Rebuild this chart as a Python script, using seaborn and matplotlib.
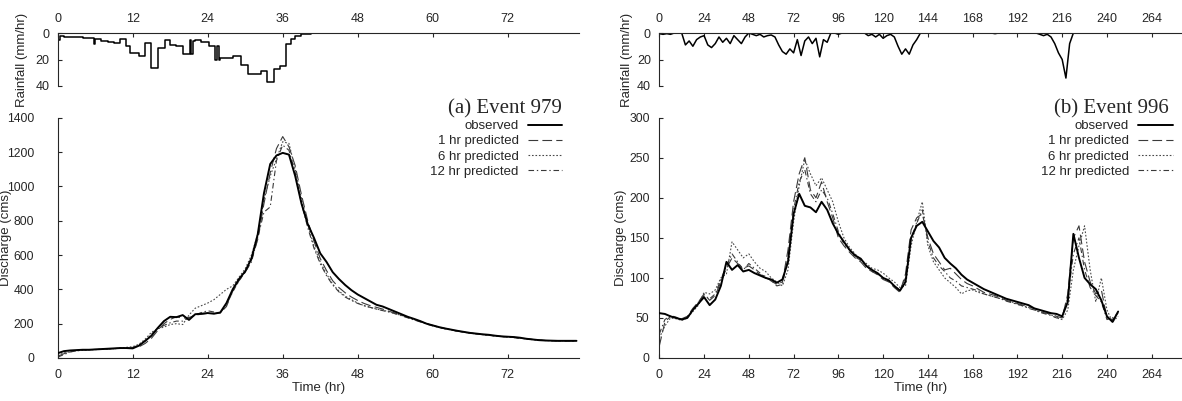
import numpy as np
import matplotlib
matplotlib.use('Agg')
import matplotlib.pyplot as plt
import seaborn as sns

#------------------------------------------------------------------------------
# data

# (a) event 979 : hourly discharge 0..83 hr
hours_a = np.arange(0, 84)
obs_a = [28, 40, 44, 46, 48, 48, 50, 52, 54, 56, 58, 58,
         56, 72, 100, 130, 175, 215, 240, 238, 250, 222, 255, 258,
         262, 258, 265, 320, 400, 460, 505, 580, 720, 960, 1130, 1180,
         1195, 1185, 1060, 900, 780, 700, 610, 560, 500, 460, 425, 395,
         370, 350, 330, 310, 300, 285, 270, 255, 240, 228, 215, 200,
         190, 180, 172, 165, 158, 152, 146, 142, 138, 135, 130, 126,
         124, 122, 118, 112, 108, 104, 102, 101, 100, 100, 100, 100]
p1_a = [10, 25, 38, 44, 47, 48, 50, 51, 53, 55, 57, 58,
        60, 65, 85, 115, 160, 200, 225, 240, 232, 235, 250, 255,
        260, 260, 262, 300, 390, 450, 500, 570, 690, 900, 1080, 1220,
        1290, 1230, 1120, 950, 800, 680, 580, 510, 450, 410, 380, 355,
        335, 318, 305, 295, 285, 272, 262, 250, 238, 226, 214, 200,
        190, 180, 172, 164, 157, 151, 146, 141, 137, 133, 129, 126,
        123, 120, 116, 112, 108, 105, 102, 101, 100, 100, 100, 100]
p6_a = [15, 30, 36, 42, 45, 47, 49, 50, 52, 54, 58, 62,
        66, 80, 110, 150, 170, 180, 195, 200, 195, 250, 290, 305,
        320, 340, 370, 400, 420, 470, 520, 600, 720, 920, 1060, 1160,
        1260, 1250, 1100, 930, 780, 650, 560, 490, 430, 390, 360, 340,
        320, 305, 295, 285, 278, 270, 258, 248, 236, 224, 212, 200,
        188, 178, 170, 163, 156, 150, 145, 140, 136, 132, 128, 125,
        122, 119, 115, 111, 107, 104, 102, 101, 100, 100, 100, 100]
p12_a = [5, 20, 35, 42, 46, 48, 50, 51, 52, 54, 56, 58,
         62, 75, 100, 140, 170, 190, 205, 215, 215, 235, 250, 265,
         275, 268, 262, 310, 385, 450, 500, 560, 700, 850, 880, 1150,
         1240, 1210, 1080, 900, 760, 640, 550, 480, 425, 385, 355, 335,
         318, 305, 295, 285, 276, 268, 258, 246, 234, 222, 210, 198,
         187, 178, 170, 163, 156, 150, 145, 140, 136, 132, 128, 125,
         122, 119, 115, 111, 107, 104, 102, 101, 100, 100, 100, 100]
rain_t_a = [0, 0.4, 1, 2, 4, 5.8, 6, 7, 8, 9, 10, 11, 11.6, 13, 14, 15,
            16.1, 17.1, 18, 19, 20.1, 21.2, 21.4, 21.6, 22, 23, 24.2, 25.2,
            25.5, 25.8, 26, 28, 29.3, 30.5, 32.5, 33.5, 34.6, 35.5, 36.5,
            37.3, 38, 38.9, 40.5]
rain_v_a = [5, 2, 3.3, 3.3, 3.8, 8, 4.5, 6, 6.5, 7.6, 4.5, 10, 15, 17,
            7.6, 26.5, 11.4, 5.6, 8.9, 10, 16, 5, 16, 6, 5.6, 7, 9.6, 20,
            10, 20, 19, 17, 24, 31, 29, 37, 27, 25, 8.4, 4.5, 2, 0.5, 0]

# (b) event 996 : discharge every 3 hr 0..246 hr
hours_b = np.arange(0, 247, 3)
obs_b = [56, 55, 52, 50, 48, 50, 60, 68,
         76, 66, 73, 90, 120, 110, 116, 108,
         110, 106, 103, 100, 98, 94, 98, 120,
         180, 205, 190, 188, 182, 195, 185, 168,
         155, 145, 135, 128, 124, 115, 110, 106,
         100, 97, 90, 84, 95, 150, 165, 170,
         158, 146, 138, 125, 118, 112, 104, 98,
         94, 90, 86, 83, 80, 77, 74, 72,
         70, 68, 66, 62, 60, 58, 56, 55,
         52, 70, 155, 125, 100, 92, 86, 72,
         52, 45, 58]
p1_b = [15, 45, 52, 50, 49, 52, 62, 70,
        80, 72, 78, 95, 112, 125, 118, 112,
        115, 110, 104, 102, 96, 92, 95, 135,
        195, 230, 250, 210, 200, 220, 195, 175,
        150, 140, 132, 125, 120, 112, 108, 104,
        98, 95, 88, 82, 105, 160, 175, 180,
        150, 130, 120, 110, 112, 105, 98, 93,
        90, 86, 82, 80, 78, 75, 72, 70,
        68, 66, 64, 62, 58, 56, 55, 52,
        50, 80, 150, 165, 120, 95, 80, 85,
        50, 48, 55]
p6_b = [25, 40, 50, 49, 47, 50, 58, 66,
        82, 80, 85, 100, 105, 145, 135, 125,
        130, 120, 112, 108, 100, 95, 90, 110,
        170, 215, 248, 230, 215, 225, 210, 195,
        170, 150, 138, 130, 122, 118, 112, 110,
        106, 100, 95, 88, 90, 140, 170, 195,
        140, 120, 110, 100, 94, 88, 80, 84,
        85, 82, 80, 78, 76, 74, 72, 70,
        67, 65, 63, 60, 58, 56, 54, 50,
        48, 60, 110, 140, 165, 110, 70, 100,
        60, 45, 52]
p12_b = [30, 48, 53, 51, 48, 51, 60, 70,
         78, 74, 80, 98, 115, 130, 120, 110,
         118, 112, 106, 100, 97, 90, 92, 125,
         185, 220, 235, 205, 195, 210, 200, 180,
         158, 142, 135, 126, 122, 115, 108, 105,
         100, 96, 90, 85, 100, 150, 168, 185,
         145, 125, 115, 108, 100, 96, 90, 88,
         86, 84, 80, 78, 76, 74, 71, 69,
         67, 65, 62, 60, 57, 55, 53, 50,
         52, 75, 130, 150, 110, 88, 78, 70,
         48, 50, 56]
# rainfall every 2 hr, 0..222 hr (one day per row)
rain_t_b = np.arange(0, 223, 2)
rain_v_b = [0.5, 1, 0.5, 1, 0, 0, 0, 9, 6, 10, 5, 3,
            2, 9, 11, 8, 3, 7, 4, 8, 2, 5, 8, 3,
            0, 1, 2, 1, 3, 2, 1.5, 3, 9, 14, 16, 12,
            15, 5, 17, 6, 3, 8, 4, 18, 5, 7, 0, 0,
            1, 0, 0, 0, 0, 0, 0, 0, 2, 1, 3, 1,
            4, 2, 1, 3, 10, 16, 12, 16, 9, 5, 0, 0,
            0, 0, 0, 0, 0, 0, 0, 0, 0, 0, 0, 0,
            0, 0, 0, 0, 0, 0, 0.5, 0, 0, 0, 0, 0,
            0, 0, 0, 0, 0, 0, 1, 2, 1, 3, 8, 15,
            20, 34, 8, 0]

labels = ['observed', '1 hr predicted', '6 hr predicted', '12 hr predicted']

#------------------------------------------------------------------------------

sns.set_style('ticks')
plt.rcParams['font.family'] = ['Liberation Sans', 'DejaVu Sans']
plt.rcParams['xtick.direction'] = 'in'
plt.rcParams['ytick.direction'] = 'in'
plt.rcParams['lines.scale_dashes'] = False

line_kw = [dict(color='black', lw=1.4, linestyle='-', zorder=3),
           dict(color='#3a3a3a', lw=0.8, linestyle=(0, (7, 3))),
           dict(color='#4a4a4a', lw=0.8, linestyle=(0, (1.2, 1.3))),
           dict(color='#3a3a3a', lw=0.8, linestyle=(0, (4, 2, 1, 2)))]

W, H = 1182, 401


def draw_panel(fig, x0, x1, hours, series, rain_t, rain_v, steps, xmax, xstep,
               ymax, ystep, title, ypad, lab_rain, lab_q, leg_x, title_x):
    w = (x1 - x0) / W
    ax_r = fig.add_axes([x0 / W, 1 - 86 / H, w, 53 / H])
    ax_q = fig.add_axes([x0 / W, 1 - 358 / H, w, 240.3 / H])

    # rainfall (inverted)
    sns.lineplot(x=rain_t, y=rain_v, ax=ax_r, color='black', lw=1.1,
                 drawstyle='steps-post' if steps else 'default', errorbar=None)
    ax_r.set_xlim(0, xmax)
    ax_r.set_ylim(40, 0)
    ax_r.set_yticks([0, 20, 40])
    ax_r.xaxis.tick_top()
    ax_r.set_xticks(np.arange(0, xmax, xstep))
    ax_r.spines['bottom'].set_visible(False)
    ax_r.spines['right'].set_visible(False)
    ax_r.tick_params(axis='x', top=True, bottom=False, length=3, pad=6, labelsize=9)
    ax_r.tick_params(axis='y', length=3, pad=6, labelsize=9)
    ax_r.set_ylabel('Rainfall (mm/hr)', fontsize=9.5, va='center')
    ax_r.yaxis.set_label_coords((lab_rain - x0) / (x1 - x0), 0.5)
    ax_r.set_xlabel('')

    # discharge
    for lab, vals, kw in zip(labels, series, line_kw):
        sns.lineplot(x=hours, y=vals, ax=ax_q, label=lab, errorbar=None, **kw)
    ax_q.set_xlim(0, xmax)
    ax_q.set_ylim(0, ymax)
    ax_q.set_yticks(np.arange(0, ymax + 1, ystep))
    ax_q.set_xticks(np.arange(0, xmax, xstep))
    ax_q.spines['top'].set_visible(False)
    ax_q.spines['right'].set_visible(False)
    ax_q.tick_params(axis='x', length=3, pad=8, labelsize=9)
    ax_q.tick_params(axis='y', length=3, pad=ypad, labelsize=8.7)
    ax_q.set_xlabel('Time (hr)', fontsize=9.5, labelpad=1)
    ax_q.set_ylabel('Discharge (cms)', fontsize=9.5, va='center')
    ax_q.yaxis.set_label_coords((lab_q - x0) / (x1 - x0), 0.5)

    ax_q.legend(loc='upper right', bbox_to_anchor=(leg_x, 0.99), markerfirst=False,
                frameon=False, fontsize=9.5, handlelength=2.6, handletextpad=0.7,
                labelspacing=0.22, borderaxespad=0, borderpad=0)
    ax_q.text(title_x, 1.018, title, transform=ax_q.transAxes, ha='right',
              va='baseline', fontsize=15, family=['Liberation Serif', 'DejaVu Serif'])


fig = plt.figure(figsize=(W / 100, H / 100), dpi=100)

# label centres given in pixels from the left edge of the figure
draw_panel(fig, 57.7, 579, hours_a, [obs_a, p1_a, p6_a, p12_a], rain_t_a, rain_v_a,
           True, 83.4, 12, 1400, 200, '(a) Event 979', 17,
           22, 6, 0.968, 0.967)
draw_panel(fig, 659.3, 1181, hours_b, [obs_b, p1_b, p6_b, p12_b], rain_t_b, rain_v_b,
           False, 279.7, 24, 300, 50, '(b) Event 996', 7,
           627, 621, 0.984, 0.977)

fig.savefig('out.png', dpi=100)
